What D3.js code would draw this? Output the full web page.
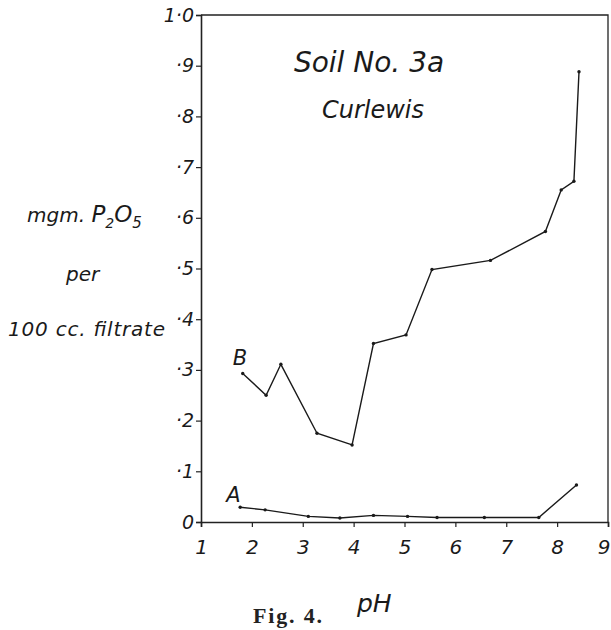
<!DOCTYPE html>
<html>
<head>
<meta charset="utf-8">
<script src="https://cdn.jsdelivr.net/npm/d3@7"></script>
<style>
  html, body { margin: 0; padding: 0; background: #fff; }
  svg { display: block; }
  .hand { font-family: "DejaVu Sans", sans-serif; font-style: italic; font-weight: 200; fill: #1a1a1a; }
</style>
</head>
<body>
<svg id="chart" width="611" height="630"></svg>
<script>
// ---- data ----
const xTicks = [1, 2, 3, 4, 5, 6, 7, 8, 9];
const xTickLabels = ["1", "2", "3", "4", "5", "6", "7", "8", "9"];
const yTicks = [0, 0.1, 0.2, 0.3, 0.4, 0.5, 0.6, 0.7, 0.8, 0.9, 1.0];
const yTickLabels = ["0", "·1", "·2", "·3", "·4", "·5", "·6", "·7", "·8", "·9", "1·0"];

const phB = [1.82, 2.28, 2.57, 3.28, 3.97, 4.39, 5.03, 5.54, 6.69, 7.77, 8.08, 8.33, 8.43];
const valB = [0.293, 0.250, 0.311, 0.175, 0.152, 0.352, 0.369, 0.498, 0.516, 0.573, 0.655, 0.672, 0.888];

const phA = [1.77, 2.26, 3.11, 3.73, 4.39, 5.06, 5.64, 6.57, 7.64, 8.38];
const valA = [0.029, 0.024, 0.011, 0.008, 0.013, 0.011, 0.009, 0.009, 0.009, 0.073];

const seriesNames = ["A", "B"];
const titleLines = ["Soil No. 3a", "Curlewis"];

// ---- layout ----
const svg = d3.select("#chart");
const mLeft = 201, mRight = 608, mTop = 15, mBottom = 522;

const x = d3.scaleLinear().domain([1, 9]).range([mLeft, mRight]);
const y = d3.scaleLinear().domain([0, 1]).range([mBottom, mTop]);

// frame (top and right)
svg.append("path")
  .attr("d", `M${mLeft},${mTop} H${mRight} V${mBottom}`)
  .attr("fill", "none").attr("stroke", "#222").attr("stroke-width", 1.3);

// axes
const xAxis = d3.axisBottom(x).tickValues(xTicks).tickSize(5)
  .tickFormat((d, i) => xTickLabels[i]);
const gx = svg.append("g").attr("transform", `translate(0,${mBottom})`).call(xAxis);
gx.select(".domain").attr("stroke", "#222").attr("stroke-width", 1.6);
gx.selectAll(".tick line").attr("stroke", "#222").attr("stroke-width", 1.2);
gx.selectAll(".tick text").attr("class", "hand").attr("font-size", 20)
  .attr("dy", "1.2em").attr("fill", "#1a1a1a")
  .attr("text-anchor", (d, i) => i === xTicks.length - 1 ? "end" : "middle")
  .attr("x", (d, i) => i === xTicks.length - 1 ? 2 : 0);

const yAxis = d3.axisLeft(y).tickValues(yTicks).tickSize(5)
  .tickFormat((d, i) => yTickLabels[i]);
const gy = svg.append("g").attr("transform", `translate(${mLeft},0)`).call(yAxis);
gy.select(".domain").attr("stroke", "#222").attr("stroke-width", 1.6);
gy.selectAll(".tick line").attr("stroke", "#222").attr("stroke-width", 1.2);
gy.selectAll(".tick text").attr("class", "hand").attr("font-size", 19)
  .attr("x", -7).attr("fill", "#1a1a1a");

// lines
const line = d3.line().x(d => x(d[0])).y(d => y(d[1]));
const dataB = phB.map((p, i) => [p, valB[i]]);
const dataA = phA.map((p, i) => [p, valA[i]]);

[dataA, dataB].forEach(data => {
  svg.append("path").datum(data)
    .attr("d", line)
    .attr("fill", "none").attr("stroke", "#1a1a1a").attr("stroke-width", 1.4);
  svg.append("g").selectAll("circle").data(data).join("circle")
    .attr("cx", d => x(d[0])).attr("cy", d => y(d[1])).attr("r", 1.7)
    .attr("fill", "#1a1a1a");
});

// series labels
svg.append("text").attr("class", "hand").attr("font-size", 21)
  .attr("x", x(phB[0]) - 10).attr("y", y(valB[0]) - 8).text(seriesNames[1]);
svg.append("text").attr("class", "hand").attr("font-size", 21)
  .attr("x", x(phA[0]) - 14).attr("y", y(valA[0]) - 5).text(seriesNames[0]);

// title
svg.append("text").attr("class", "hand").attr("font-size", 28)
  .attr("x", 369).attr("y", 72).attr("text-anchor", "middle").text(titleLines[0]);
svg.append("text").attr("class", "hand").attr("font-size", 24)
  .attr("x", 373).attr("y", 118).attr("text-anchor", "middle").text(titleLines[1]);

// y axis label
const yl1 = svg.append("text").attr("class", "hand").attr("font-size", 20)
  .attr("x", 27).attr("y", 222);
yl1.append("tspan").attr("font-weight", 400).text("mgm.  ");
yl1.append("tspan").attr("font-size", 23).text("P");
yl1.append("tspan").attr("font-size", 14).attr("dy", 6).text("2");
yl1.append("tspan").attr("font-size", 23).attr("dy", -6).text("O");
yl1.append("tspan").attr("font-size", 15).attr("dy", 6).text("5");
svg.append("text").attr("class", "hand").attr("font-size", 20)
  .attr("x", 66).attr("y", 281).text("per");
svg.append("text").attr("class", "hand").attr("font-size", 20)
  .attr("x", 8).attr("y", 336).attr("textLength", 157).attr("lengthAdjust", "spacing")
  .text("100 cc. filtrate");

// x axis label
svg.append("text").attr("class", "hand").attr("font-size", 25)
  .attr("x", 357).attr("y", 612).text("pH");

// figure caption
svg.append("text").attr("font-family", "Liberation Serif, serif").attr("font-weight", "bold")
  .attr("font-size", 22).attr("fill", "#222")
  .attr("x", 253).attr("y", 623).attr("textLength", 69).attr("lengthAdjust", "spacing")
  .text("Fig. 4.");
</script>
</body>
</html>
